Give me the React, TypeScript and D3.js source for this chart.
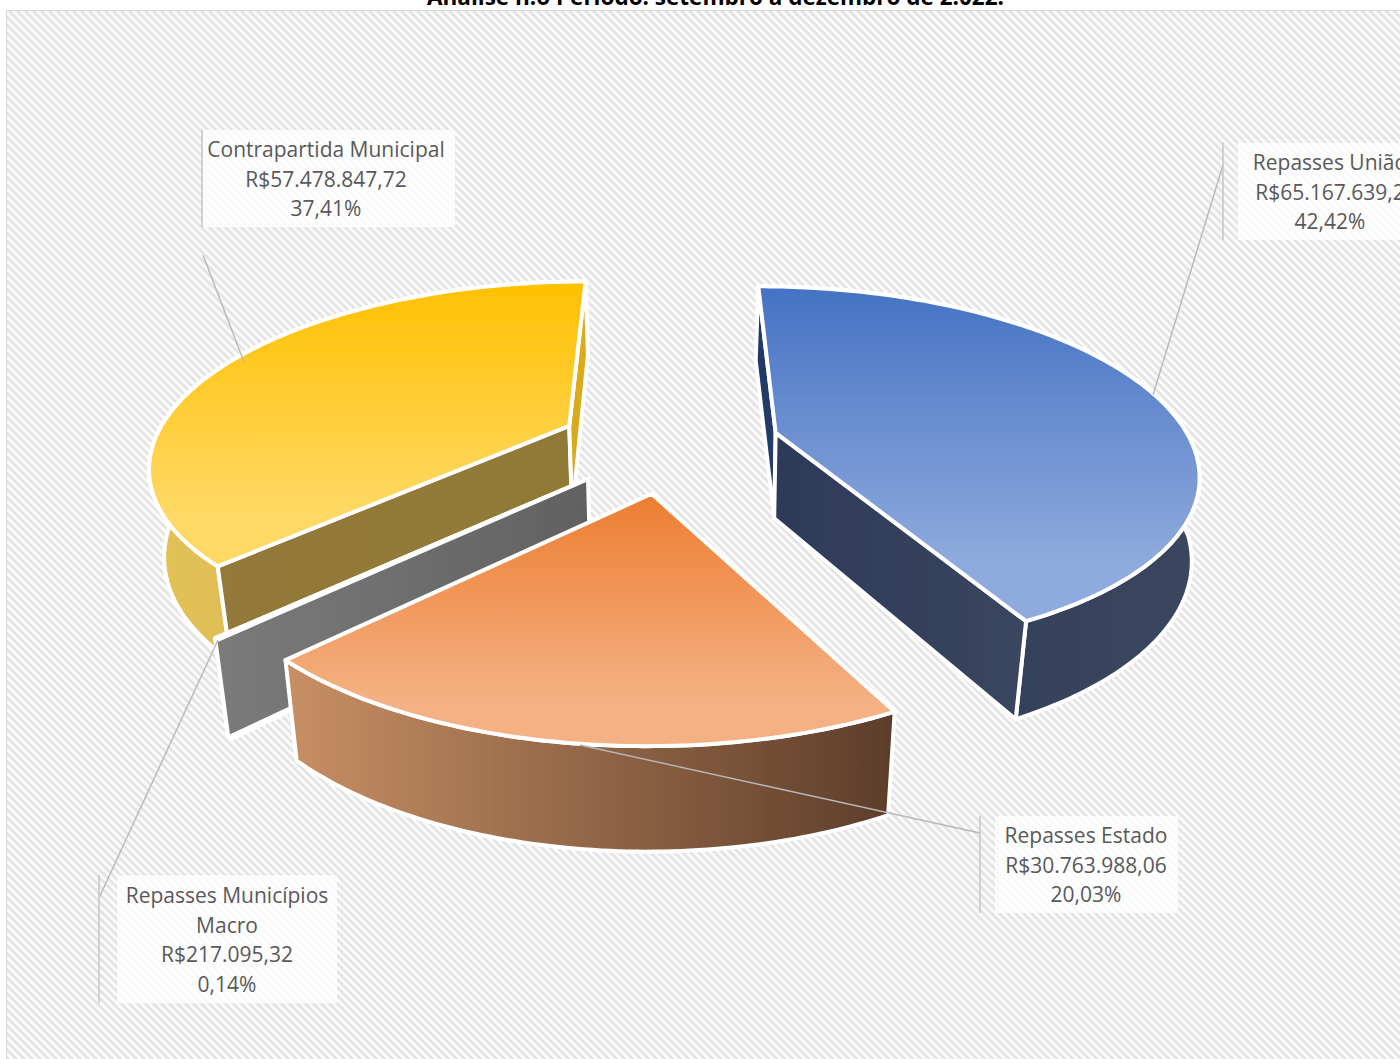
import React from "react";
import * as d3 from "d3";

// ---- data ----
const sliceNames = ["Repasses União", "Repasses Estado", "Repasses Municípios Macro", "Contrapartida Municipal"];
const sliceValues = [65167639.2, 30763988.06, 217095.32, 57478847.72];
const valueLabels = ["R$65.167.639,2", "R$30.763.988,06", "R$217.095,32", "R$57.478.847,72"];
const percentLabels = ["42,42%", "20,03%", "0,14%", "37,41%"];
const titleText = "Análise n.o Período: setembro a dezembro de 2.022.";

// ---- styles ----
const topColors = [["#4472C4", "#8FAADC"], ["#ED7D31", "#F4B183"], ["#A5A5A5", "#C9C9C9"], ["#FFC000", "#FFD966"]];
const outerColors = [["#2F3B58", "#3A465E"], ["#C88F64", "#5C3D2A"], ["#7B7B7B", "#636363"], ["#E2C158", "#D6B24A"]];
const startWallColors = [["#1F3864", "#263E68"], ["#8A5A35", "#8A5A35"], ["#7B7B7B", "#616161"], ["#93793A", "#917A36"]];
const endWallColors = [["#2D3A59", "#3A465E"], ["#8A5A35", "#8A5A35"], ["#7B7B7B", "#616161"], ["#D5A825", "#E0AC10"]];

// ---- layout ----
const W = 1400, H = 1059;
const frame = { x: 6.5, y: 10.5 };
const paintOrder = [3, 2, 1, 0];
const labelLines = [
  [sliceNames[0], valueLabels[0], percentLabels[0]],
  [sliceNames[1], valueLabels[1], percentLabels[1]],
  ["Repasses Municípios", "Macro", valueLabels[2], percentLabels[2]],
  [sliceNames[3], valueLabels[3], percentLabels[3]],
];
const labelBoxes = [
  { x0: 1238, x1: 1422, y0: 143, y1: 240, cx: 1330, base: 170, barX: 1223, leader: [[1153, 395], [1223, 165]] },
  { x0: 995, x1: 1178, y0: 816, y1: 913, cx: 1086, base: 843, barX: 980, leader: [[580, 745], [980, 833]] },
  { x0: 117, x1: 337, y0: 875, y1: 1003, cx: 227, base: 903, barX: 99, leader: [[218, 640], [99, 898]] },
  { x0: 203, x1: 455, y0: 130, y1: 227, cx: 326, base: 157, barX: 202, leader: [[244, 362], [203, 255]] },
];

// ---- perspective camera for the pie plane ----
const horizonX = 669.4, horizonY = -464, D0 = 908, persp = 0.1977, scaleX = 416.2;
const nadirY = 4170, depth = 2.546e-5, explode = 0.266, converge = 0.029, convergeMid = 0.012;

type P = [number, number];
const top = (u: number, v: number): P => {
  const w = 1 - persp * v;
  return [horizonX + (scaleX * u) / w, horizonY + D0 / w];
};
const drop = ([x, y]: P): P => {
  const t = depth * (y - horizonY);
  const c = x > horizonX
    ? convergeMid + (converge - convergeMid) * Math.min(1, Math.abs(y - 450) / 160)
    : converge;
  return [x + c * (horizonX - x), y + t * (nadirY - y)];
};

const pie = d3.pie<number>().sort(null).startAngle(0).endAngle(2 * Math.PI);
const arcs = pie(sliceValues);
const line = d3.line<P>();

function sliceGeometry(a0: number, a1: number) {
  const mid = (a0 + a1) / 2;
  const ou = explode * Math.sin(mid), ov = -explode * Math.cos(mid);
  const apex = top(ou, ov);
  const n = Math.max(2, Math.ceil((a1 - a0) * 60));
  const rim = d3.range(n + 1).map((i) => {
    const a = a0 + ((a1 - a0) * i) / n;
    return top(ou + Math.sin(a), ov - Math.cos(a));
  });
  return { apex, rim };
}

const closed = (pts: P[]) => (line(pts) as string) + "Z";
// a straight cut wall shows only when the ground below its edge lies outside the top face
const wallFacesViewer = (a: P, b: P, face: P[]) =>
  !d3.polygonContains(face, [(a[0] + b[0]) / 2, (a[1] + b[1]) / 2 + 8]);

function Grad({ id, colors, vertical }: { id: string; colors: string[]; vertical?: boolean }) {
  return (
    <linearGradient id={id} x1="0" y1="0" x2={vertical ? 0 : 1} y2={vertical ? 1 : 0}>
      <stop offset="0" stopColor={colors[0]} />
      <stop offset={vertical ? 0.82 : 1} stopColor={colors[1]} />
    </linearGradient>
  );
}

export default function App() {
  const font = "'Open Sans', 'Noto Sans', sans-serif";
  return (
    <svg width={W} height={H} viewBox={`0 0 ${W} ${H}`} style={{ position: "absolute", left: 0, top: 0, background: "#fff" }}>
      <defs>
        <pattern id="hatch" width="5.66" height="5.66" patternUnits="userSpaceOnUse" patternTransform="rotate(45)">
          <rect width="5.66" height="5.66" fill="#fbfbfb" />
          <rect width="5.66" height="2.7" fill="#e3e3e3" />
        </pattern>
        {sliceNames.map((_, i) => (
          <React.Fragment key={i}>
            <Grad id={`top${i}`} colors={topColors[i]} vertical />
            <Grad id={`outer${i}`} colors={outerColors[i]} />
            <Grad id={`start${i}`} colors={startWallColors[i]} />
            <Grad id={`end${i}`} colors={endWallColors[i]} />
          </React.Fragment>
        ))}
        <filter id="soft" x="-5%" y="-5%" width="110%" height="110%">
          <feGaussianBlur stdDeviation="0.5" />
        </filter>
      </defs>
      <text x={715.5} y={4.5} textAnchor="middle" fontFamily={font} fontWeight={700} fontSize={22.5} fill="#000">
        {titleText}
      </text>
      <rect x={frame.x} y={frame.y} width={W + 20} height={H + 20} fill="url(#hatch)" stroke="#d9d9d9" strokeWidth={1} />
      <g filter="url(#soft)">
        {paintOrder.map((i) => {
          const { apex, rim } = sliceGeometry(arcs[i].startAngle, arcs[i].endAngle);
          const first = rim[0], last = rim[rim.length - 1];
          const face = [apex, ...rim];
          const startWall = [apex, first, drop(first), drop(apex)];
          const endWall = [apex, last, drop(last), drop(apex)];
          const outerWall = [...rim, ...rim.slice().reverse().map(drop)];
          const skin = { stroke: "#fff", strokeWidth: 4, strokeLinejoin: "round" as const };
          return (
            <g key={i}>
              <path d={closed(outerWall)} fill={`url(#outer${i})`} {...skin} />
              {wallFacesViewer(apex, first, face) && <path d={closed(startWall)} fill={`url(#start${i})`} {...skin} />}
              {wallFacesViewer(apex, last, face) && <path d={closed(endWall)} fill={`url(#end${i})`} {...skin} />}
              <path d={closed(face)} fill={`url(#top${i})`} {...skin} />
            </g>
          );
        })}
      </g>
      {labelBoxes.map((b, i) => (
        <g key={i}>
          <path d={line(b.leader as P[]) as string} fill="none" stroke="#b8b8b8" strokeWidth={1.4} />
          <rect x={b.x0} y={b.y0} width={b.x1 - b.x0} height={b.y1 - b.y0} fill="#fff" fillOpacity={0.8} />
          <line x1={b.barX} x2={b.barX} y1={b.y0} y2={b.y1} stroke="#c8c8c8" strokeWidth={1.6} />
          <text textAnchor="middle" fontFamily={font} fontSize={21} fill="#595959">
            {labelLines[i].map((t, j) => (
              <tspan key={j} x={b.cx} y={b.base + j * 29.5}>{t}</tspan>
            ))}
          </text>
        </g>
      ))}
    </svg>
  );
}
